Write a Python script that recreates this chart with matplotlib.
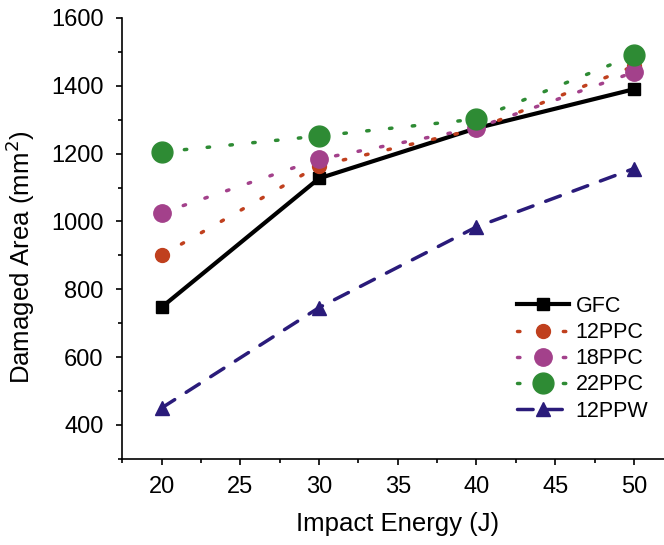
import matplotlib
matplotlib.use("Agg")
import matplotlib.pyplot as plt
from matplotlib.ticker import MultipleLocator

plt.rcParams['font.family'] = ['Liberation Sans', 'DejaVu Sans']

energy = [20, 30, 40, 50]
gfc = [747, 1127, 1275, 1390]
ppc12 = [900, 1165, 1272, 1458]
ppc18 = [1025, 1184, 1276, 1440]
ppc22 = [1205, 1252, 1302, 1490]
ppw12 = [450, 746, 984, 1156]

W, H = 664, 545
fig = plt.figure(figsize=(W / 100, H / 100), dpi=100)
ax = fig.add_axes([0.184, 0.158, 0.83, 0.809])

ax.plot(energy, gfc, color='black', lw=3, marker='s', ms=8.5, label='GFC', zorder=2)
ax.plot(energy, ppc12, color='#C0401E', lw=2.5, ls=(0, (0.7, 5.9)), dash_capstyle='round',
        marker='o', ms=10, label='12PPC', zorder=3)
ax.plot(energy, ppc18, color='#A3418B', lw=2.5, ls=(0, (0.7, 5.9)), dash_capstyle='round',
        marker='o', ms=12.5, label='18PPC', zorder=4)
ax.plot(energy, ppc22, color='#2E8B34', lw=2.5, ls=(0, (0.7, 5.9)), dash_capstyle='round',
        marker='o', ms=15, label='22PPC', zorder=5)
ax.plot(energy, ppw12, color='#2A1B7A', lw=2.5, ls=(0, (4.5, 3.9)), dash_capstyle='round',
        marker='^', ms=10, label='12PPW', zorder=6)

ax.set_xlim(17.5, 52.5)
ax.set_ylim(300, 1600)
ax.xaxis.set_major_locator(MultipleLocator(5))
ax.xaxis.set_minor_locator(MultipleLocator(2.5))
ax.yaxis.set_major_locator(MultipleLocator(200))
ax.yaxis.set_minor_locator(MultipleLocator(100))
ax.spines['top'].set_visible(False)
ax.spines['right'].set_visible(False)
for s in ('left', 'bottom'):
    ax.spines[s].set_linewidth(1.2)
ax.tick_params(which='major', direction='out', length=4.5, width=1.2, labelsize=17)
ax.tick_params(which='minor', direction='out', length=3, width=1.2)
ax.tick_params(axis='y', which='major', pad=9)
ax.tick_params(axis='x', which='major', pad=8)

ax.set_xlabel('Impact Energy (J)', fontsize=18.5, labelpad=10)
ax.set_ylabel('Damaged Area (mm$^2$)', fontsize=18.5)
ax.yaxis.set_label_coords((37 - 122) / (0.83 * W), 0.458)

leg = ax.legend(loc='upper left', bbox_to_anchor=(517 / W, 1 - 296 / H),
                bbox_transform=fig.transFigure, frameon=False,
                fontsize=15.5, handlelength=2.42, labelspacing=0.24, handletextpad=0.3,
                borderaxespad=0, borderpad=0)

fig.savefig('out.png', dpi=100)
